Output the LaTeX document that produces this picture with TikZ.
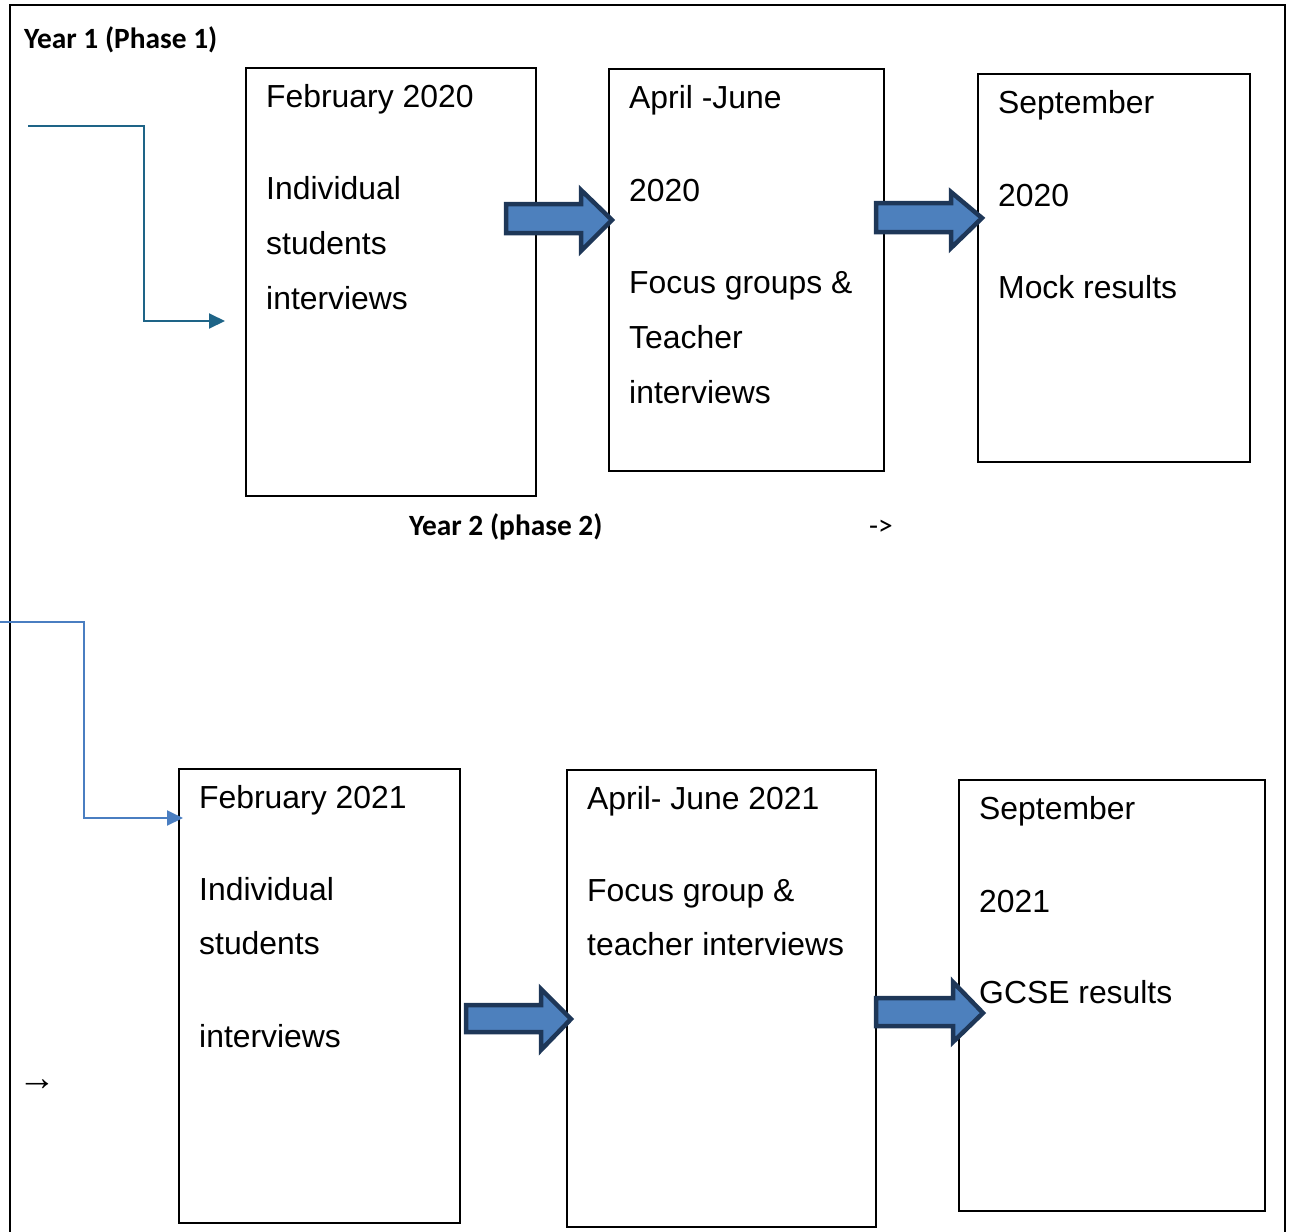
\documentclass[tikz,border=0pt]{standalone}
\usepackage{fontspec}
\setmainfont{Liberation Sans}
\newfontfamily\calibrifont{Carlito}
\usetikzlibrary{arrows.meta}
\definecolor{arrfill}{RGB}{77,128,189}
\definecolor{arrline}{RGB}{30,55,88}
\definecolor{tealc}{RGB}{30,100,135}
\definecolor{bluec}{RGB}{74,126,193}
\begin{document}
\begin{tikzpicture}[x=1bp,y=-1bp,
  box/.style={draw=black,line width=1.8bp,anchor=north west,inner sep=0pt},
  txt/.style={anchor=base west,inner sep=0pt,font=\fontsize{32}{38}\selectfont},
  lbl/.style={anchor=base west,inner sep=0pt,font=\calibrifont\bfseries\fontsize{29.5}{34}\selectfont},
  blockarr/.style={fill=arrfill,draw=arrline,line width=4.5bp,line join=miter},
  frameline/.style={draw=black,line width=2.5bp},
  conn/.style={line width=2bp,-{Triangle[length=16bp,width=15bp]}}]
\useasboundingbox (0,0) rectangle (1292,1232);
% frame
\draw[frameline] (10,1233) -- (10,5) -- (1285,5) -- (1285,1233);
% boxes
\node[box,minimum width=290bp,minimum height=428bp] (A) at (245,67) {};
\node[box,minimum width=275bp,minimum height=402bp] (B) at (608,68) {};
\node[box,minimum width=272bp,minimum height=388bp] (C) at (977,73) {};
\node[box,minimum width=281bp,minimum height=454bp] (D) at (178,768) {};
\node[box,minimum width=309bp,minimum height=457bp] (E) at (566,769) {};
\node[box,minimum width=306bp,minimum height=431bp] (F) at (958,779) {};
% block arrows
\draw[blockarr] (506,204) -- (581,204) -- (581,190) -- (612,220) -- (581,251) -- (581,233) -- (506,233) -- cycle;
\draw[blockarr] (876,203) -- (951,203) -- (951,192) -- (982,218) -- (951,248) -- (951,232) -- (876,232) -- cycle;
\draw[blockarr] (466,1005) -- (541,1005) -- (541,989) -- (571,1019) -- (541,1050) -- (541,1032) -- (466,1032) -- cycle;
\draw[blockarr] (876,998) -- (953,998) -- (953,982) -- (983,1013) -- (953,1042) -- (953,1026) -- (876,1026) -- cycle;
% texts box A
\node[txt] (a1) at (266,107) {February 2020};
\node[txt] (a2) at (266,199) {Individual};
\node[txt] (a3) at (266,254) {students};
\node[txt] (a4) at (266,309) {interviews};
% box B
\node[txt] (b1) at (629,108) {April -June};
\node[txt] (b2) at (629,201) {2020};
\node[txt] (b3) at (629,293) {Focus groups \&};
\node[txt] (b4) at (629,348) {Teacher};
\node[txt] (b5) at (629,403) {interviews};
% box C
\node[txt] (c1) at (998,113) {September};
\node[txt] (c2) at (998,206) {2020};
\node[txt] (c3) at (998,298) {Mock results};
% box D
\node[txt] (d1) at (199,808) {February 2021};
\node[txt] (d2) at (199,900) {Individual};
\node[txt] (d3) at (199,954) {students};
\node[txt] (d4) at (199,1047) {interviews};
% box E
\node[txt] (e1) at (587,809) {April- June 2021};
\node[txt] (e2) at (587,901) {Focus group \&};
\node[txt] (e3) at (587,955) {teacher interviews};
% box F
\node[txt] (f1) at (979,819) {September};
\node[txt] (f2) at (979,912) {2021};
\node[txt] (f3) at (979,1003) {GCSE results};
% labels
\node[lbl] (y1) at (24,48) {Year 1 (Phase 1)};
\node[lbl] (y2) at (409,535) {Year 2 (phase 2)};
\node[anchor=base west,inner sep=0pt,font=\calibrifont\fontsize{29.5}{34}\selectfont] (ar1) at (869,535) {->};
\node[anchor=center,inner sep=0pt,font=\fontsize{38}{42}\selectfont] (ar2) at (37,1085) {→};
% connectors
\coordinate (s1) at (28,126);
\coordinate (k1) at (144,321);
\coordinate (t1) at (225,321);
\draw[conn,draw=tealc] (s1) -| (k1) -- (t1);
\coordinate (s2) at (0,622);
\coordinate (k2) at (84,818);
\coordinate (t2) at (183,818);
\draw[conn,draw=bluec] (s2) -| (k2) -- (t2);
\end{tikzpicture}
\end{document}
